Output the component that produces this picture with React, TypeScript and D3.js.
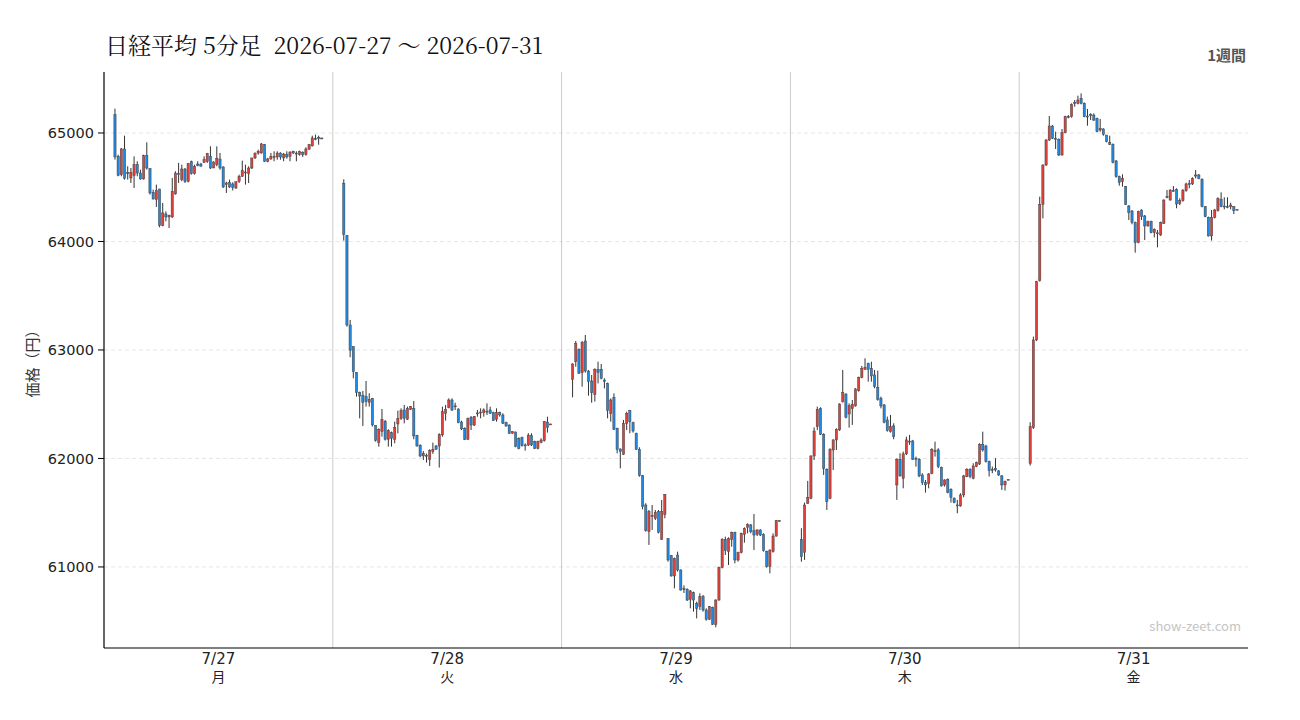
import React, { useEffect, useRef } from 'react';
import * as d3 from 'd3';

type Bar = [number, number, number, number]; // open, high, low, close

const title = '日経平均 5分足  2026-07-27 〜 2026-07-31';
const periodLabel = '1週間';
const yLabel = '価格（円）';
const watermark = 'show-zeet.com';

const dayLabels = ['7/27', '7/28', '7/29', '7/30', '7/31'];
const weekdayLabels = ['月', '火', '水', '木', '金'];
const yTicks = [61000, 62000, 63000, 64000, 65000];
const yDomain: [number, number] = [60253, 65562];

const day1: Bar[] = [
  [65169, 65224, 64754, 64779], [64785, 64800, 64601, 64610], [64616, 64862, 64601, 64853], [64853, 64975, 64570, 64582],
  [64635, 64693, 64570, 64625], [64585, 64677, 64539, 64638], [64607, 64785, 64493, 64708], [64708, 64739, 64601, 64631],
  [64631, 64662, 64570, 64576], [64576, 64800, 64570, 64791], [64791, 64914, 64662, 64677], [64671, 64677, 64432, 64447],
  [64453, 64478, 64386, 64392], [64386, 64524, 64318, 64472], [64484, 64484, 64131, 64146], [64146, 64355, 64140, 64263],
  [64254, 64278, 64186, 64226], [64226, 64247, 64124, 64241], [64226, 64585, 64217, 64462], [64438, 64647, 64432, 64631],
  [64625, 64724, 64539, 64616], [64570, 64708, 64555, 64668], [64668, 64677, 64539, 64555], [64555, 64724, 64545, 64717],
  [64736, 64745, 64616, 64625], [64625, 64708, 64616, 64693], [64714, 64739, 64693, 64699], [64714, 64724, 64693, 64693],
  [64730, 64785, 64724, 64754], [64739, 64816, 64724, 64810], [64785, 64877, 64668, 64677], [64677, 64739, 64677, 64733],
  [64708, 64877, 64693, 64767], [64760, 64816, 64662, 64677], [64687, 64693, 64493, 64502], [64524, 64551, 64447, 64539],
  [64545, 64570, 64493, 64502], [64530, 64545, 64470, 64500], [64493, 64551, 64484, 64551], [64555, 64616, 64539, 64601],
  [64601, 64745, 64595, 64653], [64635, 64708, 64524, 64640], [64625, 64693, 64539, 64677], [64677, 64770, 64668, 64770],
  [64770, 64822, 64760, 64809], [64815, 64846, 64800, 64831], [64815, 64908, 64810, 64899], [64893, 64899, 64733, 64739],
  [64739, 64770, 64730, 64761], [64760, 64816, 64754, 64785], [64780, 64831, 64739, 64785], [64779, 64831, 64754, 64815],
  [64815, 64822, 64754, 64779], [64770, 64816, 64739, 64806], [64800, 64831, 64763, 64779], [64785, 64831, 64739, 64824],
  [64831, 64837, 64806, 64816], [64810, 64831, 64739, 64815], [64800, 64837, 64791, 64830], [64822, 64831, 64779, 64800],
  [64800, 64868, 64791, 64853], [64850, 64899, 64846, 64893], [64880, 64975, 64877, 64954], [64951, 64985, 64933, 64939],
  [64960, 64975, 64892, 64950], [64954, 64956, 64950, 64952],
];

const day2: Bar[] = [
  [64536, 64573, 64008, 64066], [64057, 64057, 63215, 63230], [63230, 63277, 62933, 62998], [63031, 63031, 62739, 62800],
  [62794, 62794, 62570, 62607], [62607, 62616, 62370, 62576], [62582, 62622, 62300, 62515], [62570, 62714, 62478, 62524],
  [62518, 62601, 62478, 62545], [62552, 62558, 62294, 62309], [62306, 62306, 62155, 62165], [62146, 62278, 62109, 62269],
  [62248, 62456, 62201, 62361], [62340, 62355, 62165, 62177], [62177, 62269, 62109, 62257], [62238, 62248, 62109, 62186],
  [62177, 62340, 62140, 62287], [62318, 62441, 62232, 62370], [62370, 62462, 62355, 62441], [62447, 62493, 62324, 62370],
  [62361, 62478, 62355, 62462], [62453, 62484, 62447, 62478], [62462, 62530, 62177, 62208], [62214, 62217, 62109, 62115],
  [62122, 62131, 62011, 62023], [62023, 62069, 61986, 62048], [62030, 62045, 61962, 62020], [61992, 62085, 61931, 62072],
  [62063, 62146, 62042, 62085], [62115, 62124, 62079, 62085], [62115, 62232, 61916, 62223], [62217, 62478, 62201, 62432],
  [62416, 62493, 62349, 62453], [62471, 62554, 62462, 62539], [62539, 62554, 62437, 62447], [62480, 62514, 62447, 62485],
  [62456, 62462, 62324, 62330], [62336, 62348, 62262, 62272], [62278, 62287, 62170, 62176], [62176, 62376, 62170, 62370],
  [62379, 62391, 62262, 62308], [62308, 62391, 62299, 62385], [62415, 62447, 62385, 62420], [62425, 62462, 62370, 62428],
  [62422, 62462, 62385, 62447], [62436, 62508, 62400, 62433], [62447, 62477, 62410, 62416], [62422, 62431, 62345, 62348],
  [62361, 62462, 62339, 62422], [62422, 62431, 62385, 62401], [62401, 62416, 62318, 62324], [62330, 62339, 62293, 62299],
  [62308, 62315, 62226, 62232], [62232, 62250, 62229, 62247], [62244, 62247, 62103, 62109], [62185, 62195, 62084, 62093],
  [62192, 62201, 62109, 62118], [62125, 62139, 62072, 62122], [62124, 62232, 62115, 62216], [62210, 62232, 62115, 62124],
  [62155, 62164, 62087, 62093], [62093, 62164, 62084, 62155], [62149, 62186, 62140, 62170], [62164, 62345, 62155, 62339],
  [62336, 62385, 62238, 62284], [62318, 62320, 62316, 62318],
];

const day3: Bar[] = [
  [62729, 62877, 62563, 62871], [62892, 63083, 62846, 63061], [63006, 63015, 62779, 62785], [62791, 63083, 62662, 63070],
  [63083, 63138, 62791, 62806], [62806, 62815, 62579, 62708], [62714, 62769, 62514, 62606], [62591, 62831, 62524, 62822],
  [62822, 62892, 62692, 62794], [62822, 62871, 62729, 62739], [62723, 62739, 62646, 62708], [62692, 62699, 62370, 62441],
  [62416, 62554, 62339, 62539], [62563, 62600, 62262, 62269], [62278, 62284, 62047, 62084], [62087, 62093, 61909, 62063],
  [62038, 62355, 62032, 62324], [62324, 62431, 62262, 62416], [62441, 62447, 62232, 62339], [62330, 62339, 62238, 62253],
  [62232, 62238, 62078, 62084], [62084, 62103, 61832, 61842], [61842, 61848, 61531, 61556], [61571, 61587, 61325, 61335],
  [61325, 61525, 61203, 61510], [61470, 61571, 61341, 61474], [61448, 61525, 61433, 61504], [61510, 61525, 61310, 61319],
  [61255, 61617, 61249, 61510], [61485, 61670, 61448, 61670], [61264, 61264, 61049, 61064], [61104, 61110, 60911, 60917],
  [60917, 61086, 60803, 61080], [61110, 61141, 60957, 60972], [60972, 60978, 60781, 60788], [60790, 60830, 60760, 60800],
  [60794, 60803, 60686, 60695], [60702, 60788, 60619, 60779], [60763, 60772, 60588, 60695], [60665, 60680, 60526, 60619],
  [60634, 60757, 60603, 60726], [60726, 60742, 60588, 60603], [60603, 60619, 60505, 60517], [60517, 60640, 60511, 60634],
  [60628, 60634, 60465, 60471], [60471, 60702, 60444, 60695], [60695, 61003, 60689, 60996], [60996, 61264, 60987, 61255],
  [61255, 61279, 61110, 61150], [61141, 61273, 61018, 61264], [61255, 61325, 61187, 61319], [61319, 61325, 61033, 61064],
  [61064, 61141, 61049, 61132], [61132, 61316, 61125, 61310], [61301, 61365, 61224, 61356], [61365, 61402, 61310, 61393],
  [61387, 61396, 61310, 61325], [61334, 61488, 61156, 61294], [61301, 61347, 61285, 61341], [61341, 61347, 61285, 61294],
  [61301, 61310, 61141, 61150], [61141, 61150, 60993, 61003], [61003, 61162, 60941, 61156], [61141, 61310, 61132, 61285],
  [61285, 61433, 61279, 61427], [61427, 61430, 61424, 61427],
];

const day4: Bar[] = [
  [61255, 61357, 61049, 61095], [61135, 61593, 61065, 61571], [61587, 61793, 61581, 61642], [61633, 62029, 61624, 62023],
  [62023, 62287, 61986, 62253], [62293, 62478, 62263, 62453], [62462, 62472, 62217, 62223], [62223, 62232, 61848, 61909],
  [61900, 61909, 61525, 61602], [61633, 62094, 61624, 62085], [62078, 62177, 61894, 62171], [62171, 62278, 62078, 62269],
  [62263, 62508, 62254, 62502], [62524, 62816, 62515, 62610], [62594, 62601, 62370, 62379], [62410, 62508, 62284, 62487],
  [62459, 62539, 62309, 62499], [62484, 62647, 62478, 62641], [62625, 62754, 62616, 62748], [62748, 62853, 62739, 62831],
  [62822, 62923, 62816, 62840], [62877, 62883, 62708, 62822], [62831, 62892, 62708, 62760], [62770, 62816, 62647, 62662],
  [62656, 62809, 62533, 62545], [62555, 62570, 62462, 62484], [62493, 62502, 62324, 62333], [62355, 62386, 62247, 62257],
  [62247, 62401, 62238, 62293], [62300, 62324, 62177, 62201], [61756, 62001, 61618, 61992], [61992, 62048, 61833, 61839],
  [61817, 62063, 61725, 62042], [62042, 62201, 62032, 62171], [62160, 62217, 62125, 62155], [62161, 62171, 61986, 61993],
  [62002, 62017, 61925, 61993], [61993, 62002, 61827, 61839], [61848, 61864, 61756, 61777], [61777, 61802, 61685, 61756],
  [61771, 61864, 61725, 61857], [61863, 62094, 61854, 62085], [62070, 62155, 62017, 62072], [62079, 62094, 61910, 61925],
  [61919, 61925, 61741, 61747], [61756, 61808, 61741, 61802], [61808, 61817, 61679, 61688], [61716, 61725, 61593, 61642],
  [61633, 61642, 61587, 61593], [61572, 61618, 61495, 61570], [61562, 61679, 61556, 61664], [61664, 61848, 61642, 61839],
  [61833, 61910, 61827, 61900], [61900, 61910, 61817, 61833], [61817, 61956, 61808, 61931], [61925, 61971, 61920, 61962],
  [61949, 62140, 61940, 62131], [62131, 62247, 62063, 62079], [62115, 62125, 61962, 61971], [61971, 61980, 61833, 61888],
  [61900, 61925, 61864, 61895], [61910, 62002, 61879, 61894], [61885, 61894, 61839, 61848], [61839, 61848, 61710, 61756],
  [61756, 61796, 61704, 61787], [61808, 61810, 61806, 61808],
];

const day5: Bar[] = [
  [61955, 62334, 61935, 62293], [62284, 63123, 62272, 63092], [63092, 63636, 63083, 63630], [63639, 64413, 63630, 64342],
  [64342, 64711, 64213, 64705], [64705, 64944, 64696, 64935], [64935, 65156, 64926, 65064], [65064, 65073, 64944, 64950],
  [64950, 65012, 64852, 64945], [64941, 64950, 64788, 64797], [64797, 65037, 64791, 65003], [65003, 65159, 64997, 65150],
  [65150, 65165, 65135, 65141], [65150, 65273, 65141, 65264], [65282, 65304, 65242, 65273], [65273, 65344, 65264, 65304],
  [65319, 65365, 65264, 65273], [65273, 65282, 65144, 65150], [65156, 65221, 65067, 65150], [65172, 65181, 65119, 65159],
  [65165, 65181, 65110, 65119], [65135, 65141, 65006, 65012], [65027, 65129, 65012, 65043], [65037, 65043, 64975, 64987],
  [64981, 64981, 64914, 64920], [64914, 64975, 64889, 64895], [64895, 64904, 64720, 64729], [64742, 64751, 64588, 64597],
  [64597, 64607, 64514, 64545], [64551, 64619, 64505, 64582], [64505, 64511, 64336, 64342], [64327, 64336, 64198, 64268],
  [64281, 64290, 64158, 64176], [64173, 64183, 63897, 63989], [63989, 64284, 63983, 64275], [64290, 64296, 64198, 64229],
  [64235, 64244, 64014, 64143], [64143, 64192, 64137, 64183], [64183, 64192, 64075, 64081], [64081, 64121, 64038, 64112],
  [64080, 64106, 63946, 64075], [64060, 64183, 64051, 64173], [64167, 64388, 64161, 64382], [64413, 64475, 64398, 64410],
  [64382, 64481, 64376, 64474], [64470, 64511, 64459, 64468], [64481, 64490, 64306, 64345], [64351, 64398, 64336, 64376],
  [64376, 64481, 64367, 64474], [64468, 64542, 64459, 64530], [64536, 64567, 64490, 64524], [64530, 64591, 64521, 64582],
  [64603, 64659, 64582, 64613], [64613, 64622, 64573, 64582], [64573, 64582, 64315, 64321], [64321, 64327, 64223, 64229],
  [64223, 64229, 64045, 64051], [64051, 64290, 64008, 64223], [64223, 64300, 64213, 64290], [64284, 64407, 64275, 64398],
  [64388, 64453, 64315, 64321], [64327, 64407, 64296, 64321], [64321, 64407, 64306, 64320], [64321, 64357, 64296, 64336],
  [64321, 64327, 64253, 64284], [64296, 64298, 64294, 64296],
];

const days = [day1, day2, day3, day4, day5];

const W = 1300;
const H = 720;
const margin = { top: 72, right: 52, bottom: 72, left: 104 };
const upColor = '#e0403a';
const downColor = '#1f88e2';
const font = '"DejaVu Sans", sans-serif';
const jpFont = '"Noto Sans CJK JP", sans-serif';
const titleFont = '"Noto Serif CJK JP", serif';

const App: React.FC = () => {
  const svgRef = useRef<SVGSVGElement>(null);

  useEffect(() => {
    document.body.style.margin = '0';
    if (!svgRef.current) return;
    const svg = d3.select(svgRef.current);
    svg.selectAll('*').remove();

    const x0 = margin.left;
    const x1 = W - margin.right;
    const y0 = margin.top;
    const y1 = H - margin.bottom;

    const dayScale = d3.scaleBand<string>().domain(dayLabels).range([x0, x1]).padding(0);
    const barScale = d3.scalePoint<number>()
      .domain(d3.range(day1.length))
      .range([0, dayScale.bandwidth()])
      .padding(3.45);
    const y = d3.scaleLinear().domain(yDomain).range([y1, y0]);
    const bodyW = barScale.step() * 0.7;

    // grid
    svg.append('g')
      .selectAll('line')
      .data(yTicks)
      .join('line')
      .attr('x1', x0).attr('x2', x1)
      .attr('y1', d => y(d)).attr('y2', d => y(d))
      .attr('stroke', '#e6e6e6')
      .attr('stroke-dasharray', '4,3')
      .attr('stroke-width', 1);

    // day separators
    svg.append('g')
      .selectAll('line')
      .data(dayLabels.slice(1))
      .join('line')
      .attr('x1', d => dayScale(d)!).attr('x2', d => dayScale(d)!)
      .attr('y1', y0).attr('y2', y1)
      .attr('stroke', '#cacaca')
      .attr('stroke-width', 1);

    // candles
    days.forEach((bars, di) => {
      const dx = dayScale(dayLabels[di])!;
      const g = svg.append('g');
      bars.forEach((b, i) => {
        const [o, h, l, c] = b;
        const cx = dx + barScale(i)!;
        const hi = Math.max(h, o, c);
        const lo = Math.min(l, o, c);
        g.append('line')
          .attr('x1', cx).attr('x2', cx)
          .attr('y1', y(hi)).attr('y2', y(lo))
          .attr('stroke', '#333')
          .attr('stroke-width', 1);
        const top = y(Math.max(o, c));
        const bh = Math.max(1, y(Math.min(o, c)) - top);
        g.append('rect')
          .attr('x', cx - bodyW / 2)
          .attr('y', top)
          .attr('width', bodyW)
          .attr('height', bh)
          .attr('fill', c >= o ? upColor : downColor)
          .attr('stroke', '#444')
          .attr('stroke-width', 0.5);
      });
    });

    // axes
    svg.append('line')
      .attr('x1', x0).attr('x2', x0).attr('y1', y0).attr('y2', y1)
      .attr('stroke', '#000').attr('stroke-width', 1.2);
    svg.append('line')
      .attr('x1', x0).attr('x2', x1).attr('y1', y1).attr('y2', y1)
      .attr('stroke', '#000').attr('stroke-width', 1.2);

    const yt = svg.append('g');
    yTicks.forEach(t => {
      yt.append('line')
        .attr('x1', x0 - 6).attr('x2', x0).attr('y1', y(t)).attr('y2', y(t))
        .attr('stroke', '#000');
      yt.append('text')
        .attr('x', x0 - 10).attr('y', y(t))
        .attr('dy', '0.36em')
        .attr('text-anchor', 'end')
        .style('font-family', font)
        .style('font-size', '14.5px')
        .attr('fill', '#222')
        .text(t);
    });

    const xt = svg.append('g');
    dayLabels.forEach((d, i) => {
      const cx = dayScale(d)! + dayScale.bandwidth() / 2;
      xt.append('text')
        .attr('x', cx).attr('y', y1 + 16)
        .attr('text-anchor', 'middle')
        .style('font-family', font)
        .style('font-size', '15px')
        .attr('fill', '#222')
        .text(d);
      xt.append('text')
        .attr('x', cx).attr('y', y1 + 34)
        .attr('text-anchor', 'middle')
        .style('font-family', jpFont)
        .style('font-size', '14px')
        .attr('fill', '#222')
        .text(weekdayLabels[i]);
    });

    svg.append('text')
      .attr('transform', `translate(38,${(y0 + y1) / 2}) rotate(-90)`)
      .attr('text-anchor', 'middle')
      .style('font-family', jpFont)
      .style('font-size', '15px')
      .attr('fill', '#333')
      .text(yLabel);

    svg.append('text')
      .attr('x', x0 + 1).attr('y', 54)
      .attr('xml:space', 'preserve')
      .style('white-space', 'pre')
      .style('font-family', titleFont)
      .style('font-size', '23px')
      .attr('fill', '#111')
      .text(title);

    svg.append('text')
      .attr('x', x1 - 2).attr('y', 61)
      .attr('text-anchor', 'end')
      .style('font-family', jpFont)
      .style('font-size', '15px')
      .attr('font-weight', 'bold')
      .attr('fill', '#555')
      .text(periodLabel);

    svg.append('text')
      .attr('x', x1 - 7).attr('y', y1 - 17)
      .attr('text-anchor', 'end')
      .style('font-family', jpFont)
      .style('font-size', '13px')
      .attr('fill', '#c4c4c4')
      .text(watermark);
  }, []);

  return (
    <div style={{ width: W, height: H, background: '#fff' }}>
      <svg ref={svgRef} width={W} height={H} />
    </div>
  );
};

export default App;
